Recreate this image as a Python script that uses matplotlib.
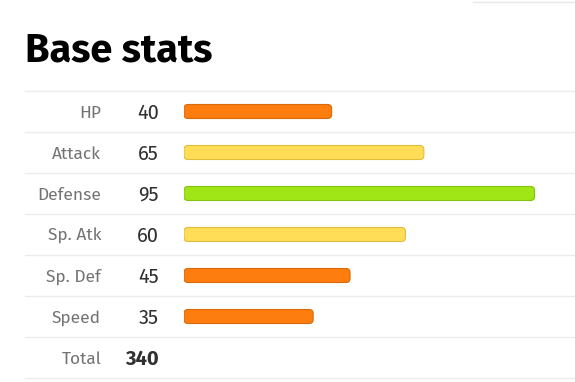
import matplotlib.pyplot as plt
from matplotlib.patches import FancyBboxPatch

# data
stat_names = ['HP', 'Attack', 'Defense', 'Sp. Atk', 'Sp. Def', 'Speed']
stat_values = [40, 65, 95, 60, 45, 35]
bar_colors = ['#fd7d0f', '#ffdd57', '#a0e515', '#ffdd57', '#fd7d0f', '#fd7d0f']
edge_colors = ['#d96a0b', '#e0bd3c', '#86c20f', '#e0bd3c', '#d96a0b', '#d96a0b']
total_label = 'Total'
total_value = sum(stat_values)

W, H = 575, 382
fig = plt.figure(figsize=(W / 100, H / 100), dpi=100)

# main axes in pixel coordinates (texts, separators)
ax = fig.add_axes([0, 0, 1, 1])
ax.set_xlim(0, W)
ax.set_ylim(H, 0)
ax.axis('off')

fam = ['Fira Sans', 'Lato', 'DejaVu Sans']
ax.text(25, 62, 'Base stats', fontsize=28.6, fontweight='bold', family=fam,
        color='black', ha='left', va='baseline')

top = 91
row_h = 41
n = len(stat_names)
for k in range(n + 2):
    y = top + k * row_h
    ax.plot([25, W], [y, y], color='#ececec', lw=1)
ax.plot([473, W], [2, 2], color='#e8e8e8', lw=1)

for i, (name, val) in enumerate(zip(stat_names, stat_values)):
    yc = top + row_h * (i + 0.5) + 1.5
    ax.text(101, yc, name, fontsize=12.5, family=fam, color='#737373',
            ha='right', va='center')
    ax.text(159, yc, str(val), fontsize=14.5, family=fam, color='#303030',
            ha='right', va='center')

yc = top + row_h * (n + 0.5) + 1.5
ax.text(101, yc, total_label, fontsize=12.5, family=fam, color='#737373',
        ha='right', va='center')
ax.text(159, yc, str(total_value), fontsize=14.5, family=fam, color='#303030',
        fontweight='bold', ha='right', va='center')

# bar axes: x in stat units, y in pixels
px_per_unit = 3.69
x0 = 184
bax = fig.add_axes([x0 / W, 0, (W - x0) / W, 1])
bax.set_xlim(0, (W - x0) / px_per_unit)
bax.set_ylim(H, 0)
bax.axis('off')

bar_h = 14
r = 4 / px_per_unit
for i, val in enumerate(stat_values):
    yc = top + row_h * (i + 0.5)
    p = FancyBboxPatch((0, yc - bar_h / 2), val, bar_h,
                       boxstyle=f'round,pad=0,rounding_size={r}',
                       mutation_aspect=px_per_unit,
                       facecolor=bar_colors[i], edgecolor=edge_colors[i], lw=0.8)
    bax.add_patch(p)

fig.savefig('out.png', dpi=100)
